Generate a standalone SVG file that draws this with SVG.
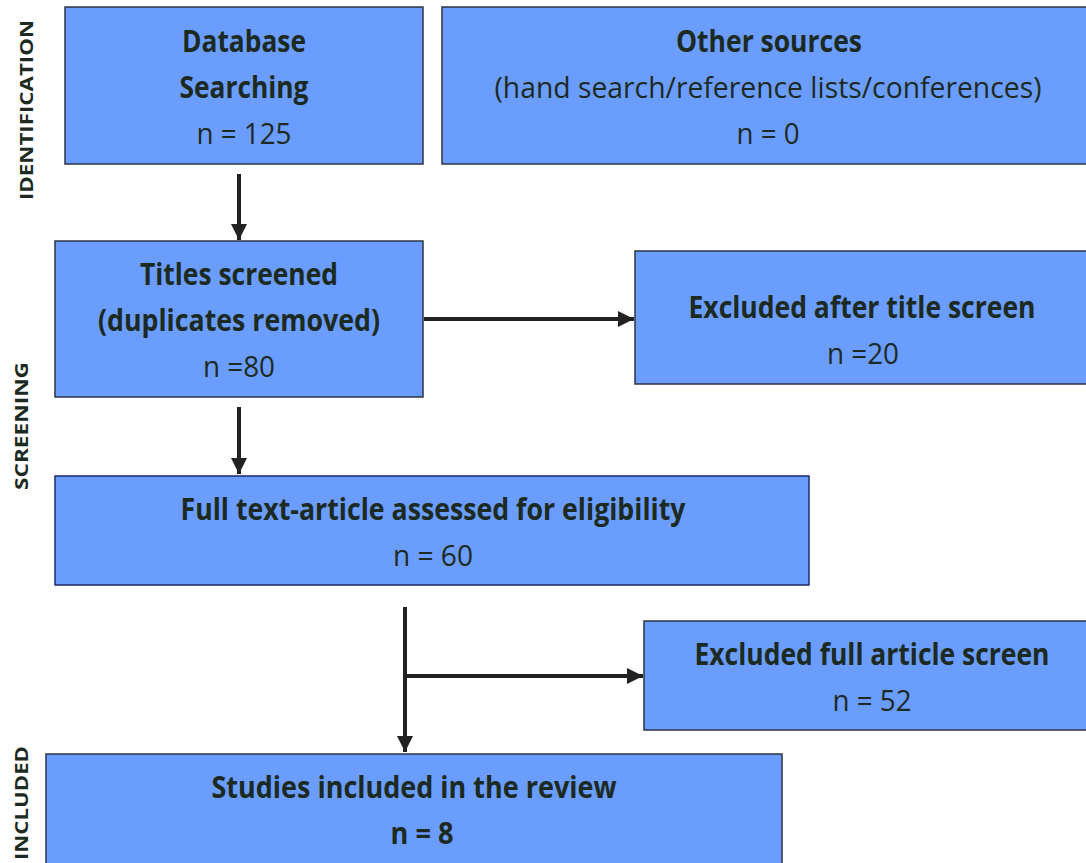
<svg xmlns="http://www.w3.org/2000/svg" width="1086" height="863" viewBox="0 0 1086 863">
<style>
.box{fill:#6b9dff;stroke:#2b3440;stroke-width:1.5}
.t{font-family:"Open Sans","Liberation Sans",sans-serif;font-size:30px;fill:#1c2a22;text-anchor:middle}
.b{font-weight:bold}
.side{font-family:"Open Sans","Liberation Sans",sans-serif;font-size:18px;font-weight:bold;fill:#1c2a22;text-anchor:middle}
.c{stroke:#222;stroke-width:4;fill:none}
</style>
<defs>
<marker id="ah" viewBox="0 0 10 10" refX="10" refY="5" markerWidth="4" markerHeight="4" orient="auto" markerUnits="strokeWidth">
<path d="M0,0 L10,5 L0,10 Z" fill="#222"/>
</marker>
</defs>
<rect width="1086" height="863" fill="#ffffff"/>
<g id="side-labels">
<text class="side" transform="translate(33,110) rotate(-90)" textLength="180" lengthAdjust="spacingAndGlyphs">IDENTIFICATION</text>
<text class="side" transform="translate(28,426) rotate(-90)" textLength="128" lengthAdjust="spacingAndGlyphs">SCREENING</text>
<text class="side" transform="translate(28,803) rotate(-90)" textLength="114" lengthAdjust="spacingAndGlyphs">INCLUDED</text>
</g>
<g id="connectors">
<line class="c" x1="239" y1="174" x2="239" y2="240" marker-end="url(#ah)"/>
<line class="c" x1="424" y1="319" x2="634" y2="319" marker-end="url(#ah)"/>
<line class="c" x1="239" y1="407" x2="239" y2="474" marker-end="url(#ah)"/>
<line class="c" x1="405" y1="607" x2="405" y2="752" marker-end="url(#ah)"/>
<line class="c" x1="405" y1="676" x2="643" y2="676" marker-end="url(#ah)"/>
</g>
<g id="db">
<rect class="box" x="65" y="7" width="358" height="157"/>
<text class="t b" x="244" y="52" textLength="124" lengthAdjust="spacingAndGlyphs">Database</text>
<text class="t b" x="244" y="98" textLength="129" lengthAdjust="spacingAndGlyphs">Searching</text>
<text class="t" x="244" y="144" textLength="95" lengthAdjust="spacingAndGlyphs">n = 125</text>
</g>
<g id="other">
<rect class="box" x="442" y="7" width="646" height="157"/>
<text class="t b" x="769" y="52" textLength="186" lengthAdjust="spacingAndGlyphs">Other sources</text>
<text class="t" x="768" y="98" textLength="547" lengthAdjust="spacingAndGlyphs">(hand search/reference lists/conferences)</text>
<text class="t" x="768" y="144" textLength="63" lengthAdjust="spacingAndGlyphs">n = 0</text>
</g>
<g id="titles">
<rect class="box" x="55" y="241" width="368" height="156"/>
<text class="t b" x="239" y="285" textLength="198" lengthAdjust="spacingAndGlyphs">Titles screened</text>
<text class="t b" x="239" y="331" textLength="282" lengthAdjust="spacingAndGlyphs">(duplicates removed)</text>
<text class="t" x="239" y="377" textLength="72" lengthAdjust="spacingAndGlyphs">n =80</text>
</g>
<g id="excl1">
<rect class="box" x="635" y="251" width="453" height="133"/>
<text class="t b" x="862" y="318" textLength="347" lengthAdjust="spacingAndGlyphs">Excluded after title screen</text>
<text class="t" x="863" y="364" textLength="72" lengthAdjust="spacingAndGlyphs">n =20</text>
</g>
<g id="fulltext">
<rect class="box" x="55" y="476" width="754" height="109" style="stroke:#1a2a6a"/>
<text class="t b" x="433" y="520" textLength="505" lengthAdjust="spacingAndGlyphs">Full text-article assessed for eligibility</text>
<text class="t" x="433" y="566" textLength="80" lengthAdjust="spacingAndGlyphs">n = 60</text>
</g>
<g id="excl2">
<rect class="box" x="644" y="621" width="444" height="109"/>
<text class="t b" x="872" y="665" textLength="355" lengthAdjust="spacingAndGlyphs">Excluded full article screen</text>
<text class="t" x="872" y="711" textLength="79" lengthAdjust="spacingAndGlyphs">n = 52</text>
</g>
<g id="included">
<rect class="box" x="46" y="754" width="736" height="115"/>
<text class="t b" x="414" y="798" textLength="405" lengthAdjust="spacingAndGlyphs">Studies included in the review</text>
<text class="t b" x="422" y="844" textLength="63" lengthAdjust="spacingAndGlyphs">n = 8</text>
</g>
</svg>
